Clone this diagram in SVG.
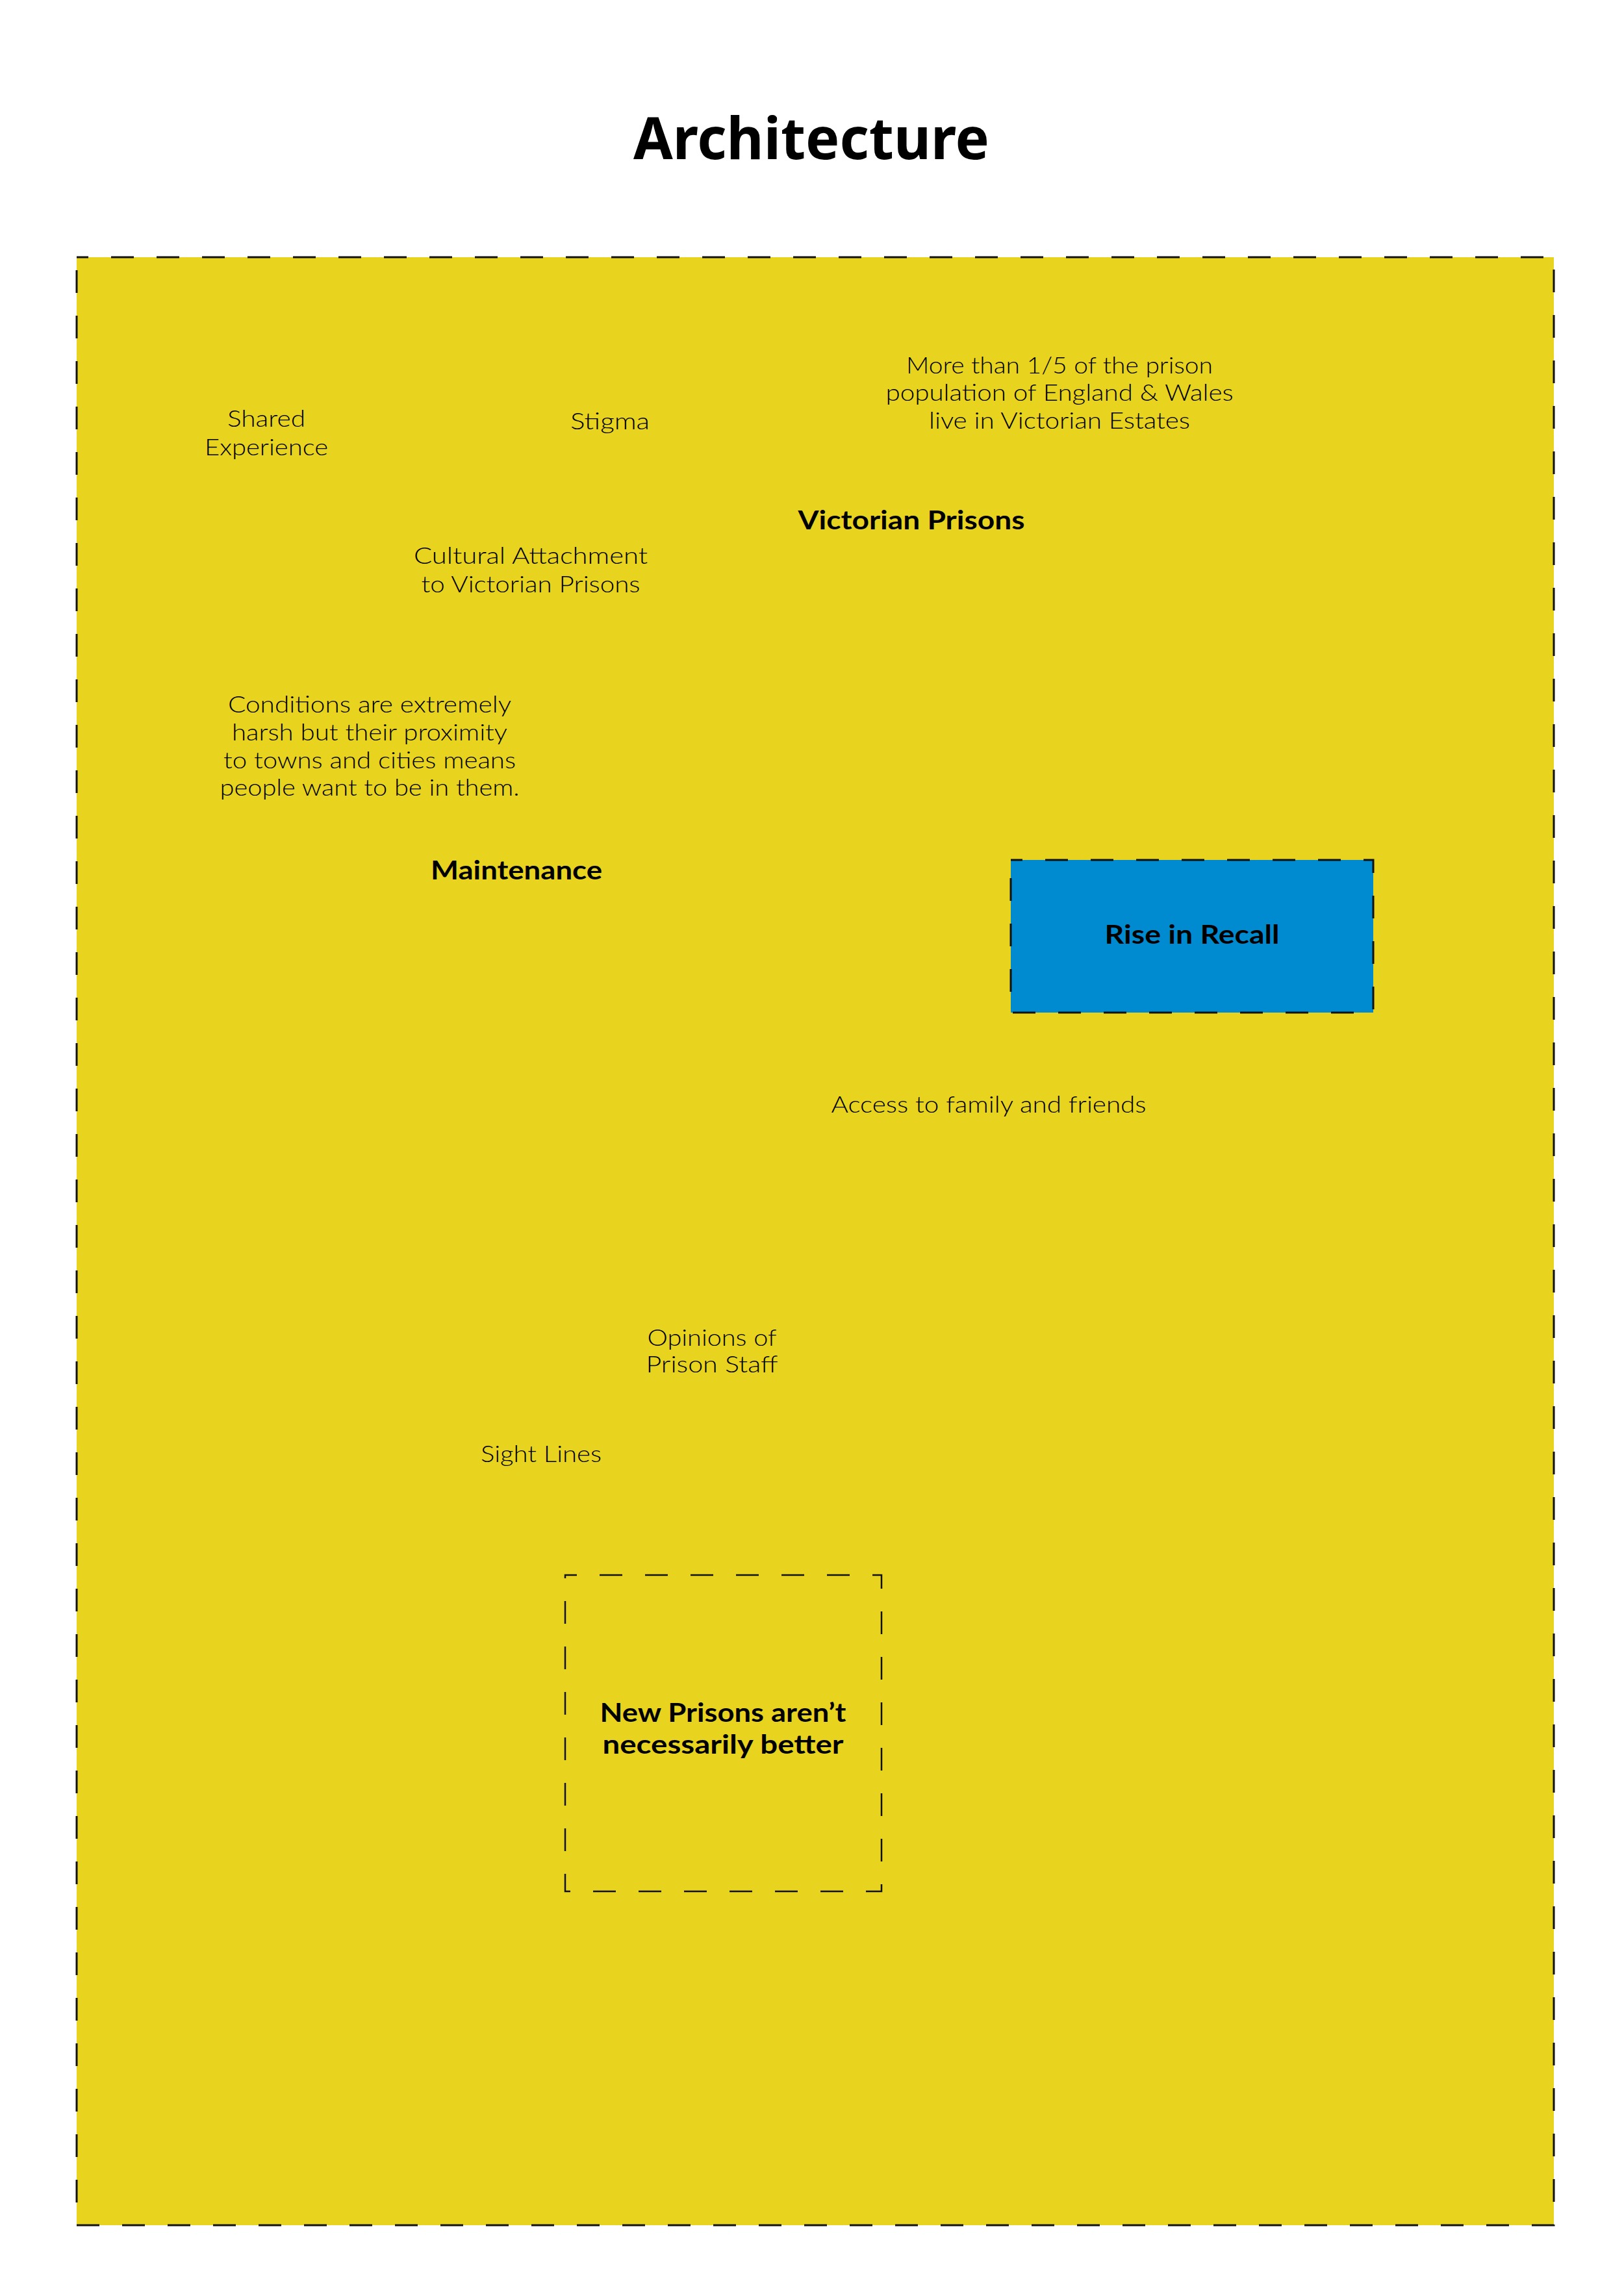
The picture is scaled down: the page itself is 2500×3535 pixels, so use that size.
<svg xmlns="http://www.w3.org/2000/svg" width="2500" height="3535" viewBox="0 0 2500 3535">
<style>
.t{font-family:Lato,"Noto Sans","Liberation Sans",sans-serif;font-weight:300;font-size:36px;fill:#000;text-anchor:middle}
.b{font-family:Lato,"Noto Sans","Liberation Sans",sans-serif;font-weight:700;font-size:40px;fill:#000;text-anchor:middle}
.title{font-family:"Noto Sans","Liberation Sans",sans-serif;font-weight:700;font-size:90px;fill:#000;text-anchor:middle}
.dash{stroke:#111;stroke-width:3;stroke-dasharray:35 35;stroke-dashoffset:17}
</style>
<rect width="2500" height="3535" fill="#ffffff"/>
<g id="frame">
<rect class="dash" x="118" y="396" width="2274" height="3030" fill="#E8D41E"/>
</g>
<text class="title" x="1249" y="245" textLength="548" lengthAdjust="spacingAndGlyphs">Architecture</text>
<g id="connectors"></g>
<g id="shared-experience">
<text class="t" x="410" y="657" textLength="120" lengthAdjust="spacingAndGlyphs">Shared</text>
<text class="t" x="410" y="701" textLength="190" lengthAdjust="spacingAndGlyphs">Experience</text>
</g>
<g id="stigma"><text class="t" x="939" y="661" textLength="122" lengthAdjust="spacingAndGlyphs">Stigma</text></g>
<g id="more-than">
<text class="t" x="1631" y="575" textLength="472" lengthAdjust="spacingAndGlyphs">More than 1/5 of the prison</text>
<text class="t" x="1631" y="617" textLength="535" lengthAdjust="spacingAndGlyphs">population of England &amp; Wales</text>
<text class="t" x="1631" y="660" textLength="402" lengthAdjust="spacingAndGlyphs">live in Victorian Estates</text>
</g>
<g id="victorian-prisons"><text class="b" x="1403" y="815" textLength="349" lengthAdjust="spacingAndGlyphs">Victorian Prisons</text></g>
<g id="cultural-attachment">
<text class="t" x="817" y="868" textLength="360" lengthAdjust="spacingAndGlyphs">Cultural Attachment</text>
<text class="t" x="817" y="912" textLength="337" lengthAdjust="spacingAndGlyphs">to Victorian Prisons</text>
</g>
<g id="conditions">
<text class="t" x="569" y="1097" textLength="436" lengthAdjust="spacingAndGlyphs">Conditions are extremely</text>
<text class="t" x="569" y="1140" textLength="424" lengthAdjust="spacingAndGlyphs">harsh but their proximity</text>
<text class="t" x="569" y="1183" textLength="450" lengthAdjust="spacingAndGlyphs">to towns and cities means</text>
<text class="t" x="569" y="1225" textLength="461" lengthAdjust="spacingAndGlyphs">people want to be in them.</text>
</g>
<g id="maintenance"><text class="b" x="795" y="1354" textLength="264" lengthAdjust="spacingAndGlyphs">Maintenance</text></g>
<g id="rise-in-recall">
<rect class="dash" x="1556" y="1324" width="558" height="235" fill="#008ACF"/>
<text class="b" x="1835" y="1453" textLength="269" lengthAdjust="spacingAndGlyphs">Rise in Recall</text>
</g>
<g id="access"><text class="t" x="1522" y="1713" textLength="485" lengthAdjust="spacingAndGlyphs">Access to family and friends</text></g>
<g id="opinions">
<text class="t" x="1096" y="2072" textLength="199" lengthAdjust="spacingAndGlyphs">Opinions of</text>
<text class="t" x="1096" y="2113" textLength="203" lengthAdjust="spacingAndGlyphs">Prison Staff</text>
</g>
<g id="sight-lines"><text class="t" x="833" y="2251" textLength="186" lengthAdjust="spacingAndGlyphs">Sight Lines</text></g>
<g id="new-prisons">
<rect class="dash" x="870" y="2425" width="487" height="487" fill="none" style="stroke-width:2.5"/>
<text class="b" x="1113" y="2651" textLength="379" lengthAdjust="spacingAndGlyphs">New Prisons aren’t</text>
<text class="b" x="1113" y="2700" textLength="371" lengthAdjust="spacingAndGlyphs">necessarily better</text>
</g>
</svg>
